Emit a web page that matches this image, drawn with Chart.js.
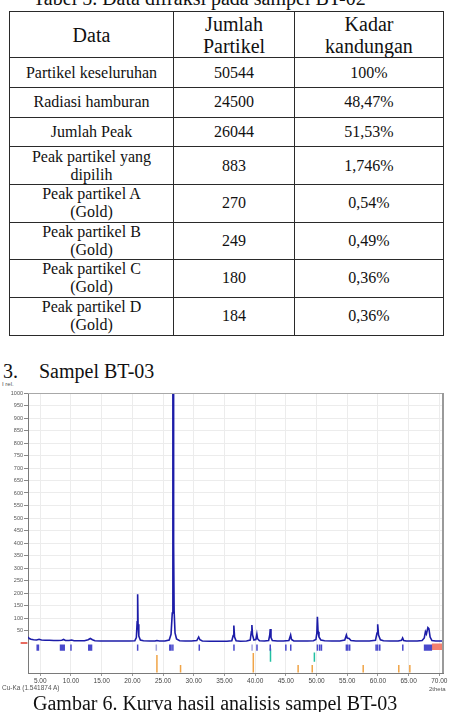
<!DOCTYPE html>
<html>
<head>
<meta charset="utf-8">
<script src="https://cdn.jsdelivr.net/npm/chart.js@4.4.0/dist/chart.umd.min.js"></script>
<style>
  html, body { margin: 0; padding: 0; background: #fff; }
  body { width: 452px; height: 712px; position: relative; overflow: hidden;
         font-family: "Liberation Serif", "Times New Roman", serif; color: #111; }
  .cap { position: absolute; font-size: 20px; line-height: 23px; white-space: nowrap; }
  table { position: absolute; left: 9px; top: 11px; width: 434px;
          border-collapse: collapse; table-layout: fixed; }
  th, td { border: 1.4px solid #2a2a2a; padding: 0; text-align: center;
           vertical-align: middle; font-weight: normal; }
  th { font-size: 20px; line-height: 22px; }
  td { font-size: 16px; line-height: 18px; }
  .ax { position: absolute; font-family: "Liberation Sans", Arial, sans-serif;
        color: #555; white-space: nowrap; }
  #chartBox { position: absolute; left: 0; top: 380px; }
</style>
</head>
<body>
<div class="cap" style="left:33px; top:-12.7px;">Tabel 5. Data difraksi pada sampel BT-02</div>
<table>
  <colgroup><col style="width:164px"><col style="width:121px"><col style="width:149px"></colgroup>
  <tr style="height:46px"><th>Data</th><th>Jumlah<br>Partikel</th><th>Kadar<br>kandungan</th></tr>
  <tr style="height:30px"><td>Partikel keseluruhan</td><td>50544</td><td>100%</td></tr>
  <tr style="height:29.5px"><td>Radiasi hamburan</td><td>24500</td><td>48,47%</td></tr>
  <tr style="height:29.5px"><td>Jumlah Peak</td><td>26044</td><td>51,53%</td></tr>
  <tr style="height:38px"><td>Peak partikel yang<br>dipilih</td><td>883</td><td>1,746%</td></tr>
  <tr style="height:37.5px"><td>Peak partikel A<br>(Gold)</td><td>270</td><td>0,54%</td></tr>
  <tr style="height:37.5px"><td>Peak partikel B<br>(Gold)</td><td>249</td><td>0,49%</td></tr>
  <tr style="height:37.5px"><td>Peak partikel C<br>(Gold)</td><td>180</td><td>0,36%</td></tr>
  <tr style="height:38px"><td>Peak partikel D<br>(Gold)</td><td>184</td><td>0,36%</td></tr>
</table>
<div class="cap" style="left:3px; top:359.8px;">3.</div>
<div class="cap" style="left:39px; top:359.8px;">Sampel BT-03</div>

<div class="ax" style="left:2px; top:381px; font-size:6px;">I rel.</div>
<div id="chartBox"><canvas id="xrdChart" width="452" height="315"></canvas></div>
<div class="ax" style="left:2px; top:684px; font-size:6.5px;">Cu-Ka (1.541874 A)</div>
<div class="ax" style="left:429px; top:686px; font-size:6px;">2theta</div>

<div class="cap" style="left:33px; top:691.7px;">Gambar 6. Kurva hasil analisis sampel BT-03</div>

<script>
// measured pattern (2theta in degrees, relative intensity)
const twoTheta = [
  3.0, 3.2, 3.5, 3.9, 4.4, 4.8, 5.2, 5.8, 6.5, 7.2,
  7.9, 8.5, 8.8, 9.1, 9.7, 10.1, 10.5, 11.3, 12.2, 12.8,
  13.15, 13.5, 13.9, 14.8, 16.0, 17.2, 18.4, 19.5, 20.4, 20.65,
  20.78, 20.86, 20.93, 21.05, 21.3, 21.8, 22.8, 23.7, 24.0, 24.4,
  25.3, 26.0, 26.3, 26.5, 26.6, 26.66, 26.72, 26.8, 26.95, 27.2,
  27.7, 28.6, 29.6, 30.5, 30.8, 31.0, 31.4, 32.6, 34.0, 35.4,
  36.2, 36.42, 36.53, 36.65, 36.9, 37.6, 38.6, 39.2, 39.38, 39.47,
  39.58, 39.8, 40.12, 40.28, 40.4, 40.7, 41.5, 42.2, 42.38, 42.46,
  42.58, 42.8, 43.6, 44.6, 45.5, 45.78, 45.92, 46.3, 47.4, 48.5,
  49.5, 49.9, 50.05, 50.14, 50.25, 50.4, 50.7, 51.3, 52.5, 53.8,
  54.6, 54.86, 55.0, 55.3, 55.6, 56.4, 57.5, 58.6, 59.6, 59.85,
  59.96, 60.1, 60.4, 60.9, 62.0, 63.3, 63.85, 64.02, 64.2, 64.6,
  65.5, 66.4, 67.2, 67.55, 67.74, 67.9, 68.14, 68.3, 68.5, 68.8,
  69.4, 70.0, 70.6
];
const intensity = [
  24, 18, 15, 13, 12, 15, 12, 11, 11, 10,
  10, 11, 14, 10, 10, 12, 9, 9, 9, 13,
  18, 13, 9, 8, 8, 8, 8, 8, 9, 22,
  85, 195, 75, 28, 12, 9, 8, 8, 10, 8,
  8, 12, 35, 120, 1000, 1000, 400, 130, 40, 16,
  9, 8, 8, 10, 24, 13, 8, 7, 7, 7,
  9, 30, 70, 24, 9, 7, 8, 12, 45, 72,
  32, 12, 14, 36, 17, 9, 8, 10, 32, 56,
  22, 10, 8, 8, 10, 32, 14, 8, 8, 8,
  9, 14, 40, 105, 45, 24, 12, 9, 8, 8,
  12, 32, 20, 18, 10, 8, 8, 8, 11, 40,
  75, 32, 13, 9, 8, 8, 11, 20, 10, 8,
  8, 8, 10, 20, 45, 36, 62, 58, 24, 10,
  8, 8, 8
];

// reference stick patterns drawn under the pattern
const blueSticks = [4.5, 4.7, 8.3, 8.5, 8.7, 8.9, 10.0, 12.9, 13.05, 13.2, 13.35,
  20.86, 26.1, 26.3, 26.6, 30.9, 36.55, 40.3, 42.46, 45.0, 45.8,
  50.14, 50.5, 50.8, 54.86, 55.1, 55.4, 59.7, 59.96, 60.3, 64.05,
  67.6, 67.75, 67.95, 68.15, 68.3, 68.5, 68.7];
const lavenderSticks = [23.9, 39.5];
const orangeSticks = [24.0, 27.85, 39.7, 47.0, 49.3, 57.6, 63.4, 65.2];
const orangeTops = [-48, -88, -40, -88, -88, -88, -88, -88];
const tealSticks = [42.5, 49.65];
const tealTops = [-22, -38];
const redBand = [68.75, 70.6];

const xTickValues = [5, 10, 15, 20, 25, 30, 35, 40, 45, 50, 55, 60, 65, 70];
const yTickValues = [50, 100, 150, 200, 250, 300, 350, 400, 450, 500,
  550, 600, 650, 700, 750, 800, 850, 900, 950, 1000];

function stickData(pos, low, high) {
  const pts = [];
  pos.forEach((x, i) => {
    pts.push({ x: x, y: low }, { x: x, y: Array.isArray(high) ? high[i] : high }, { x: x, y: null });
  });
  return pts;
}

const framePlugin = {
  id: 'frame',
  afterDraw(chart) {
    const { ctx, chartArea: a } = chart;
    ctx.save();
    ctx.strokeStyle = '#a8a8a8';
    ctx.lineWidth = 1;
    ctx.beginPath();
    ctx.moveTo(a.left, a.top + 0.5);
    ctx.lineTo(a.right, a.top + 0.5);
    ctx.stroke();
    ctx.strokeStyle = '#9a9a9a';
    ctx.lineWidth = 2;
    ctx.beginPath();
    ctx.moveTo(a.right, a.top);
    ctx.lineTo(a.right, a.bottom);
    ctx.stroke();
    ctx.restore();
  }
};

const tickFont = { family: 'Liberation Sans', size: 6.5 };

new Chart(document.getElementById('xrdChart'), {
  type: 'line',
  data: {
    datasets: [
      {
        data: twoTheta.map((x, i) => ({ x: x, y: intensity[i] })),
        borderColor: '#1c1ca8',
        borderWidth: 1.6,
        pointRadius: 0,
        tension: 0
      },
      {
        data: stickData(blueSticks, -31, -6),
        borderColor: '#4848cc',
        borderWidth: 1.5,
        pointRadius: 0
      },
      {
        data: stickData(lavenderSticks, -31, -6),
        borderColor: '#a4a4dc',
        borderWidth: 1.5,
        pointRadius: 0
      },
      {
        data: stickData(orangeSticks, -118, orangeTops),
        borderColor: '#f0a447',
        borderWidth: 1.5,
        pointRadius: 0
      },
      {
        data: stickData(tealSticks, -75, tealTops),
        borderColor: '#22c0a2',
        borderWidth: 1.5,
        pointRadius: 0
      },
      {
        data: redBand.map(x => ({ x: x, y: -2 })),
        borderWidth: 0,
        backgroundColor: '#f3806f',
        fill: { value: -28 },
        pointRadius: 0
      },
      {
        data: [{ x: 1.8, y: 0 }, { x: 2.9, y: 0 }],
        borderColor: '#e03a2a',
        borderWidth: 1.5,
        pointRadius: 0,
        clip: false
      }
    ]
  },
  options: {
    responsive: false,
    animation: false,
    layout: { padding: { left: 0, right: 9, top: 13, bottom: 6 } },
    plugins: { legend: { display: false }, tooltip: { enabled: false } },
    scales: {
      x: {
        type: 'linear',
        min: 3,
        max: 70.6,
        afterBuildTicks: s => { s.ticks = xTickValues.map(v => ({ value: v })); },
        afterFit: s => { s.height = 16; },
        grid: { color: '#ececec', tickLength: 3, tickColor: '#999' },
        border: { color: '#7a7a7a' },
        ticks: {
          font: tickFont, color: '#444', padding: 1, maxRotation: 0, autoSkip: false,
          callback: v => Number(v).toFixed(2)
        }
      },
      y: {
        min: -120,
        max: 1000,
        afterBuildTicks: s => { s.ticks = yTickValues.map(v => ({ value: v })); },
        afterFit: s => { s.width = 28; },
        grid: { color: '#ececec', tickLength: 4, tickColor: '#888' },
        border: { color: '#7a7a7a' },
        ticks: {
          font: { family: 'Liberation Sans', size: 5.5 }, color: '#555', padding: 1, autoSkip: false,
          callback: v => String(v)
        }
      }
    }
  },
  plugins: [framePlugin]
});
</script>
</body>
</html>
